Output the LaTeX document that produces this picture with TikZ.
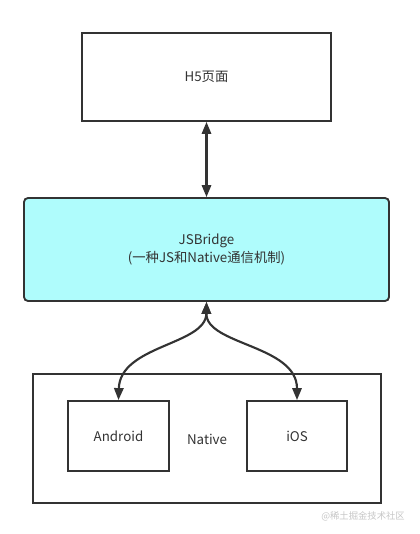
\documentclass[tikz,border=0pt]{standalone}
\usepackage{fontspec}
\setmainfont{Noto Sans CJK SC}
\usepackage{xcolor}
\usepackage{tikz}
\usetikzlibrary{
    positioning,
    arrows.meta,
}
\definecolor{inkgray}{HTML}{333333}
\definecolor{bridgecyan}{HTML}{AFFCFC}
\tikzset{
    % Block styles
    block/.style={rectangle, draw=inkgray, line width=1.4pt, align=center,
                  text=inkgray, font=\fontsize{10pt}{13pt}\selectfont, fill=white},
    bridge block/.style={block, fill=bridgecyan, rounded corners=3pt},
    % Arrow styles
    link/.style={{Triangle[length=9pt,width=7pt]}-{Triangle[length=9pt,width=7pt]},
                 draw=inkgray, line width=1.6pt},
    % Annotation styles
    annot/.style={font=\fontsize{7pt}{8pt}\selectfont, text=gray!45},
}

\begin{document}
\begin{tikzpicture}[x=0.75pt, y=-0.75pt]
    \useasboundingbox (0,0) rectangle (419,534);

    % H5 page
    \node[block, minimum width=186.75pt, minimum height=66pt] (h5) at (206.5, 77) {H5页面};

    % Bridge
    \node[bridge block, minimum width=273.75pt, minimum height=77.25pt] (jsb) at (206.5, 249.5)
        {JSBridge\\(一种JS和Native通信机制)};

    % Native side
    \node[block, minimum width=261pt, minimum height=96.75pt] (native) at (207, 438.5) {};
    \node[block, minimum width=75.75pt, minimum height=52.5pt] (android) at (118.5, 436) {Android};
    \node[block, minimum width=75pt, minimum height=52.5pt] (ios) at (297, 436) {iOS};
    \node[text=inkgray, font=\fontsize{10pt}{13pt}\selectfont] (nativetext) at (207, 439) {Native};

    % Arrows
    \draw[link] (h5.south) -- (jsb.north);
    \draw[link] (jsb.south) .. controls (206, 345) and (120, 345) .. (android.north);
    \draw[link] (jsb.south) .. controls (206, 345) and (297, 345) .. (ios.north);

    % Watermark
    \node[annot] (mark) at (363, 516) {@稀土掘金技术社区};
\end{tikzpicture}
\end{document}
